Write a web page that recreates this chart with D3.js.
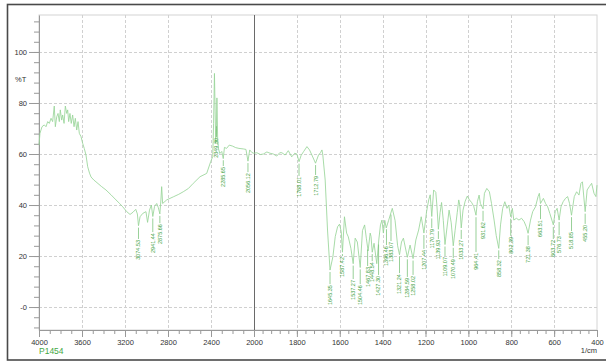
<!DOCTYPE html>
<html>
<head>
<meta charset="utf-8">
<script src="https://cdn.jsdelivr.net/npm/d3@7"></script>
<style>
body { margin: 0; background: #fff; }
</style>
</head>
<body>
<div id="canvas"></div>
<script>
// IR spectrum, values (wavenumber in 1/cm, %T)
const wavenumber = [
    4000, 3991, 3972, 3951, 3935, 3919, 3904, 3888, 3873, 3858, 3848, 3835, 3823, 3811, 3802, 3789,
    3780, 3767, 3755, 3742, 3733, 3724, 3712, 3700, 3687, 3674, 3662, 3649, 3637, 3625, 3609, 3594,
    3579, 3563, 3547, 3530, 3516, 3490, 3470, 3420, 3377, 3330, 3284, 3250, 3221, 3184, 3153, 3125,
    3100, 3085, 3074.5, 3060, 3035, 3005, 2990, 2972, 2955, 2941.4, 2925, 2905, 2890, 2875.7, 2866, 2859,
    2850, 2812, 2751, 2700, 2658, 2610, 2565, 2502, 2440, 2403, 2384, 2376, 2368, 2362, 2356, 2350,
    2345, 2338, 2330, 2318, 2300, 2286, 2275, 2255, 2230, 2200, 2170, 2140, 2100, 2075, 2056, 2040,
    2020, 2003, 1987, 1970, 1956, 1940, 1925, 1910, 1894, 1880, 1870, 1855, 1840, 1824, 1810, 1800,
    1790, 1780, 1769, 1753, 1741, 1730, 1713, 1699, 1690, 1683, 1679, 1668, 1657, 1645.4, 1632, 1621,
    1610, 1601, 1593, 1587.4, 1578, 1568, 1560, 1548, 1537.3, 1528, 1518, 1504.5, 1494, 1484, 1476, 1467.8,
    1458, 1454, 1448.5, 1440, 1427.3, 1418, 1410, 1403, 1396.5, 1390, 1383.1, 1372, 1355, 1342, 1330, 1321.2,
    1312, 1303, 1284.6, 1272, 1258, 1245, 1232, 1220, 1207.4, 1195, 1185, 1178, 1170.8, 1162, 1152, 1147,
    1139.9, 1132, 1125, 1117, 1109.1, 1100, 1090, 1080, 1070.5, 1062, 1052, 1045, 1040, 1033.3, 1025, 1015,
    1005, 995, 985, 975, 964.4, 958, 950, 944, 931.6, 925, 914, 902, 892, 880, 870, 858.3,
    850, 840, 830, 820, 812, 802.4, 795, 788, 776, 764, 752, 740, 730, 721.4, 710, 700,
    687, 675, 669, 663.5, 650, 640, 630, 620, 603.7, 595, 586, 576.7, 568, 558, 547, 537,
    528, 518.9, 506, 495, 484, 475, 468, 455.2, 446, 436, 425, 414, 405, 400
];
const transmittance = [
    63.5, 68.1, 70.7, 71.4, 70.7, 72.7, 72.0, 74.0, 72.7, 78.8, 70.7, 74.6, 75.9, 72.7, 77.3, 73.3,
    75.3, 72.0, 78.8, 75.9, 77.3, 72.7, 75.9, 72.0, 75.3, 70.7, 74.0, 69.4, 72.7, 68.1, 66.8, 64.2,
    62.2, 59.6, 55.0, 52.5, 51.0, 49.8, 49.1, 47.3, 45.9, 44.0, 42.0, 40.6, 39.3, 37.4, 36.3, 37.2,
    38.3, 36.5, 31.9, 35.4, 36.7, 37.4, 33.2, 38.0, 40.0, 35.5, 39.5, 40.6, 39.0, 36.5, 42.0, 47.2,
    40.6, 42.0, 43.2, 44.2, 45.2, 46.5, 48.5, 51.1, 52.4, 57.0, 59.0, 72.0, 91.6, 78.0, 64.0, 70.0,
    82.0, 66.0, 62.0, 60.2, 61.0, 58.2, 62.6, 62.2, 63.5, 63.1, 62.5, 62.2, 62.0, 61.8, 57.2, 61.6,
    60.6, 60.3, 60.5, 59.8, 60.0, 60.8, 60.3, 60.0, 59.2, 60.5, 60.5, 59.6, 61.3, 58.9, 60.3, 60.0,
    57.0, 59.5, 60.9, 62.9, 61.6, 59.6, 56.4, 59.6, 60.5, 61.6, 59.6, 49.8, 30.2, 14.5, 19.7, 27.6,
    31.5, 32.5, 29.5, 21.5, 35.4, 29.0, 27.5, 23.0, 17.0, 27.0, 25.5, 15.5, 30.0, 32.2, 27.0, 22.0,
    29.0, 27.6, 21.5, 25.0, 17.0, 26.3, 32.2, 34.1, 29.0, 34.0, 31.0, 34.0, 38.7, 34.0, 24.0, 20.5,
    25.5, 27.0, 19.5, 24.3, 19.0, 26.3, 30.2, 35.4, 29.0, 37.4, 42.0, 44.0, 35.5, 45.9, 45.0, 40.0,
    30.5, 37.0, 41.0, 34.0, 24.5, 31.0, 38.0, 33.0, 24.0, 30.0, 37.0, 42.0, 40.0, 31.0, 38.0, 41.5,
    43.5, 42.0, 41.0, 39.5, 36.0, 41.3, 43.9, 40.6, 38.5, 44.6, 46.5, 45.2, 40.6, 34.1, 28.0, 23.0,
    32.2, 38.7, 41.3, 38.7, 40.0, 35.4, 38.7, 34.1, 34.8, 34.1, 34.8, 33.5, 31.5, 28.9, 34.1, 37.4,
    39.3, 43.3, 44.6, 40.6, 42.6, 40.6, 39.3, 36.7, 32.2, 37.4, 38.7, 34.1, 39.3, 41.3, 42.6, 43.3,
    40.6, 36.0, 43.3, 45.2, 43.9, 48.5, 49.1, 37.4, 45.9, 47.2, 48.5, 44.6, 43.3, 47.8
];

// peak labels: where they sit on the axis (crowded ones nudged apart, as in the picture),
// their text, and where the text starts (%T)
const peakWn = [3074.53, 2941.44, 2875.66, 2349.30, 2285.65, 2056.12, 1790, 1712.79, 1645.35, 1587.42,
    1537.27, 1504.46, 1470, 1448.54, 1419, 1382, 1361, 1321.24, 1284.59, 1258.02,
    1207.44, 1170.79, 1139.93, 1109.07, 1070.49, 1033.27, 964.41, 931.62, 858.32, 802.39,
    721.38, 663.51, 603.72, 576.73, 518.85, 455.20];
const peakLabels = ["3074.53", "2941.44", "2875.66", "2349.30", "2285.65", "2056.12", "1768.01", "1712.79", "1645.35", "1587.42",
    "1537.27", "1504.46", "1467.83", "1448.54", "1427.30", "1396.46", "1383.07", "1321.24", "1284.59", "1258.02",
    "1207.44", "1170.79", "1139.93", "1109.07", "1070.49", "1033.27", "964.41", "931.62", "858.32", "802.39",
    "721.38", "663.51", "603.72", "576.73", "518.85", "455.20"];
const peakTextT = [26.3, 29.0, 32.5, 66.3, 54.9, 52.5, 51.0, 51.4, 8.6, 19.6,
    10.6, 8.6, 15.7, 17.6, 12.2, 23.9, 25.5, 12.9, 11.4, 12.2,
    22.4, 30.6, 26.3, 19.6, 18.8, 26.3, 21.2, 33.3, 18.4, 27.5,
    23.9, 34.1, 26.3, 27.8, 29.4, 32.2];

// axis ticks
const xTicks = [4000, 3600, 3200, 2800, 2400, 2000, 1800, 1600, 1400, 1200, 1000, 800, 600, 400];
const yTicks = [100, 80, 60, 40, 20, 0];
const yTickLabels = ["100", "80", "60", "40", "20", "-0"];

var w = 606;
var h = 362;
var margin = {top: 15, right: 9, bottom: 32, left: 39};

var svg = d3.select("#canvas")
    .append("svg")
    .attr("width", w)
    .attr("height", h)
    .style("display", "block")
    .style("font-family", "'Liberation Sans', Arial, sans-serif");

// scale is split at 2000: the low wavenumber half is stretched twice
let x_scale = d3.scaleLinear()
    .domain([4000, 2000, 400])
    .range([margin.left, 254, w - margin.right]);

let y_scale = d3.scaleLinear()
    .domain([-9, 114.5])
    .range([h - margin.bottom, margin.top]);

// outer frame
svg.append("rect")
    .attr("x", 7.5)
    .attr("y", 4.5)
    .attr("width", w)
    .attr("height", 355.5)
    .attr("fill", "none")
    .attr("stroke", "#4a4a4a")
    .attr("stroke-width", 1.6);

// plot box
svg.append("rect")
    .attr("x", margin.left)
    .attr("y", margin.top)
    .attr("width", w - margin.right - margin.left)
    .attr("height", h - margin.bottom - margin.top)
    .attr("fill", "none")
    .attr("stroke", "#d4d4d4")
    .attr("stroke-width", 1);

// dashed grid
svg.append("g")
    .selectAll("line")
    .data(yTicks)
    .join("line")
    .attr("x1", margin.left)
    .attr("x2", w - margin.right)
    .attr("y1", d => Math.round(y_scale(d)) + 0.5)
    .attr("y2", d => Math.round(y_scale(d)) + 0.5)
    .attr("stroke", "#d0d0d0")
    .attr("stroke-dasharray", "3,2");

svg.append("g")
    .selectAll("line")
    .data(xTicks.filter(d => d != 4000 && d != 400 && d != 2000))
    .join("line")
    .attr("x1", d => Math.round(x_scale(d)) + 0.5)
    .attr("x2", d => Math.round(x_scale(d)) + 0.5)
    .attr("y1", margin.top)
    .attr("y2", h - margin.bottom)
    .attr("stroke", "#d0d0d0")
    .attr("stroke-dasharray", "3,2");

// solid divider where the scale changes
svg.append("line")
    .attr("x1", Math.round(x_scale(2000)) + 0.5)
    .attr("x2", Math.round(x_scale(2000)) + 0.5)
    .attr("y1", margin.top)
    .attr("y2", h - margin.bottom)
    .attr("stroke", "#6a6a6a")
    .attr("stroke-width", 1);

// x axis: major and minor ticks
let xMinor = d3.range(4000, 2000, -100).concat(d3.range(2000, 399, -40));
svg.append("g")
    .attr("transform", `translate(0,${h - margin.bottom})`)
    .call(d3.axisBottom(x_scale).tickValues(xMinor).tickSize(4).tickFormat(""))
    .call(g => g.select(".domain").remove())
    .call(g => g.selectAll("line").attr("stroke", "#999"));

svg.append("g")
    .attr("transform", `translate(0,${h - margin.bottom})`)
    .call(d3.axisBottom(x_scale).tickValues(xTicks).tickSize(7).tickSizeOuter(0).tickFormat(d => d))
    .call(g => g.select(".domain").attr("stroke", "#999"))
    .call(g => g.selectAll("line").attr("stroke", "#999"))
    .call(g => g.selectAll("text")
        .attr("y", 10)
        .attr("fill", "#333")
        .style("font-size", "7.5px")
        .style("font-family", "'Liberation Sans', Arial, sans-serif"));

// y axis
let yMinor = d3.range(-8, 115, 4);
svg.append("g")
    .attr("transform", `translate(${margin.left},0)`)
    .call(d3.axisLeft(y_scale).tickValues(yMinor).tickSize(5).tickFormat(""))
    .call(g => g.select(".domain").remove())
    .call(g => g.selectAll("line").attr("stroke", "#999"));

svg.append("g")
    .attr("transform", `translate(${margin.left},0)`)
    .call(d3.axisLeft(y_scale).tickValues(yTicks).tickSize(10).tickSizeOuter(0)
        .tickFormat((d, i) => yTickLabels[i]))
    .call(g => g.select(".domain").attr("stroke", "#999"))
    .call(g => g.selectAll("line").attr("stroke", "#999"))
    .call(g => g.selectAll("text")
        .attr("x", -12)
        .attr("fill", "#333")
        .style("font-size", "7.5px")
        .style("font-family", "'Liberation Sans', Arial, sans-serif"));

// axis titles
svg.append("text")
    .attr("x", 15)
    .attr("y", 82)
    .style("font-size", "7.5px")
    .style("fill", "#333")
    .text("%T");

svg.append("text")
    .attr("x", 597)
    .attr("y", 353)
    .attr("text-anchor", "end")
    .style("font-size", "7.5px")
    .style("fill", "#333")
    .text("1/cm");

svg.append("text")
    .attr("x", 39)
    .attr("y", 354)
    .style("font-size", "8.5px")
    .style("fill", "#45a845")
    .text("P1454");

// spectrum
const spectrum = wavenumber.map((d, i) => ({wn: d, t: transmittance[i]}));

svg.append("path")
    .datum(spectrum)
    .attr("fill", "none")
    .attr("stroke", "#98d598")
    .attr("stroke-width", 0.85)
    .attr("d", d3.line().x(d => x_scale(d.wn)).y(d => y_scale(d.t)));

// curve value at a wavenumber (spectrum runs high to low)
function curveAt(wn) {
    for (let i = 1; i < spectrum.length; i++) {
        if (spectrum[i].wn <= wn) {
            const a = spectrum[i - 1], b = spectrum[i];
            const f = (a.wn - wn) / (a.wn - b.wn);
            return a.t + f * (b.t - a.t);
        }
    }
    return spectrum[spectrum.length - 1].t;
}

// peak marks and labels
const peaks = peakWn.map((d, i) => ({wn: d, label: peakLabels[i], textT: peakTextT[i]}));

const peakG = svg.append("g");

peakG.selectAll("line")
    .data(peaks)
    .join("line")
    .attr("x1", d => x_scale(d.wn))
    .attr("x2", d => x_scale(d.wn))
    .attr("y1", d => Math.min(y_scale(curveAt(d.wn)) + 2, y_scale(d.textT) - 3))
    .attr("y2", d => y_scale(d.textT) - 1)
    .attr("stroke", "#6cbc6c")
    .attr("stroke-width", 0.7);

peakG.selectAll("text")
    .data(peaks)
    .join("text")
    .attr("transform", d => `translate(${x_scale(d.wn)},${y_scale(d.textT)}) rotate(-90)`)
    .attr("text-anchor", "end")
    .attr("dy", "0.35em")
    .style("font-size", "5.5px")
    .style("fill", "#3f9f3f")
    .text(d => d.label);
</script>
</body>
</html>
